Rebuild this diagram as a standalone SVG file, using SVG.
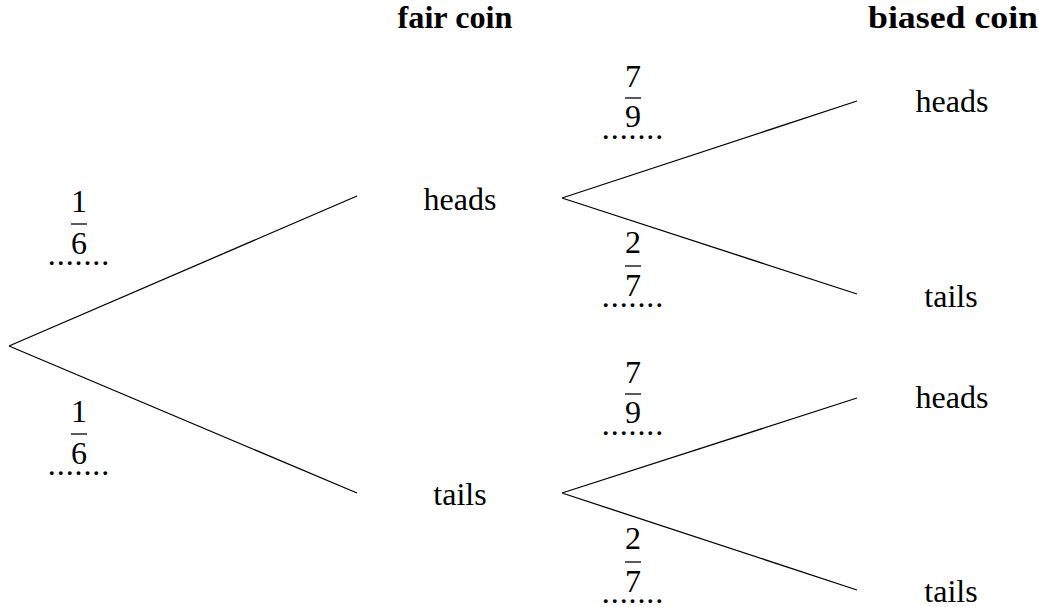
<svg xmlns="http://www.w3.org/2000/svg" width="1041" height="607" viewBox="0 0 1041 607" font-family="Liberation Serif, DejaVu Serif, serif">
<style>
text{font-size:32px;fill:#000;text-anchor:middle}
.h{font-weight:bold}
.dots{letter-spacing:0.9px}
.bar{stroke:#000;stroke-width:1.3}
.edge{stroke:#000;stroke-width:1.3;fill:none}
</style>
<rect width="1041" height="607" fill="#fff"/>
<g id="headers">
<text class="h" x="455" y="28" textLength="115" lengthAdjust="spacingAndGlyphs">fair coin</text>
<text class="h" x="953" y="28" textLength="170" lengthAdjust="spacingAndGlyphs">biased coin</text>
</g>
<g id="connectors">
<path class="edge" d="M9,346 L357,196 M9,346 L357,493"/>
<path class="edge" d="M562,198 L857,101 M562,198 L857,294"/>
<path class="edge" d="M562,493 L857,398 M562,493 L857,590"/>
</g>
<g id="n-fair-heads"><text x="460" y="210">heads</text></g>
<g id="n-fair-tails"><text x="460" y="505">tails</text></g>
<g id="n-biased-heads-1"><text x="952" y="112">heads</text></g>
<g id="n-biased-tails-1"><text x="951" y="307">tails</text></g>
<g id="n-biased-heads-2"><text x="952" y="408">heads</text></g>
<g id="n-biased-tails-2"><text x="951" y="602">tails</text></g>
<g id="p-fair-heads">
<text x="79" y="212">1</text>
<line class="bar" x1="71" y1="224" x2="87" y2="224"/>
<text x="79" y="254">6</text>
<text class="dots" x="79" y="265">.......</text>
</g>
<g id="p-fair-tails">
<text x="79" y="422">1</text>
<line class="bar" x1="71" y1="434" x2="87" y2="434"/>
<text x="79" y="464">6</text>
<text class="dots" x="79" y="475">.......</text>
</g>
<g id="p-heads-heads">
<text x="633" y="87">7</text>
<line class="bar" x1="625" y1="98" x2="641" y2="98"/>
<text x="633" y="127">9</text>
<text class="dots" x="633" y="139">.......</text>
</g>
<g id="p-heads-tails">
<text x="633" y="253">2</text>
<line class="bar" x1="625" y1="266" x2="641" y2="266"/>
<text x="633" y="296">7</text>
<text class="dots" x="633" y="307">.......</text>
</g>
<g id="p-tails-heads">
<text x="633" y="383">7</text>
<line class="bar" x1="625" y1="394" x2="641" y2="394"/>
<text x="633" y="423">9</text>
<text class="dots" x="633" y="435">.......</text>
</g>
<g id="p-tails-tails">
<text x="633" y="549">2</text>
<line class="bar" x1="625" y1="562" x2="641" y2="562"/>
<text x="633" y="592">7</text>
<text class="dots" x="633" y="603">.......</text>
</g>
</svg>
